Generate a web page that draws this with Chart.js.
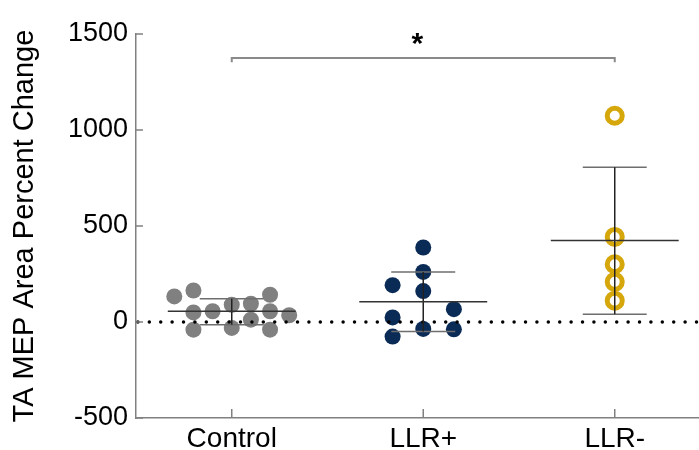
<!DOCTYPE html>
<html>
<head>
<meta charset="utf-8">
<script src="https://cdn.jsdelivr.net/npm/chart.js@4/dist/chart.umd.min.js"></script>
<style>
  html, body { margin: 0; padding: 0; background: #fff; overflow: hidden; }
  #wrap { width: 699px; height: 450px; position: relative; }
  canvas { display: block; }
</style>
</head>
<body>
<div id="wrap"><canvas id="c"></canvas></div>
<script>
// --- data ---
const categories = ['Control', 'LLR+', 'LLR-'];
const yTicks = [-500, 0, 500, 1000, 1500];

// per-subject values, with their horizontal jitter (category units)
const controlValues = [133, 164, 50, -40, 56, 90, -31, 95, 12, 142, 56, -40, 35];
const controlJitter = [-0.3, -0.2, -0.2, -0.2, -0.1, 0, 0, 0.1, 0.1, 0.2, 0.2, 0.2, 0.3];
const llrPlusValues = [388, 261, 192, 161, 67, 24, -36, -38, -76];
const llrPlusJitter = [0, 0, -0.16, 0, 0.16, -0.16, 0, 0.16, -0.16];
const llrMinusValues = [1074, 443, 301, 209, 111];
const llrMinusJitter = [0, 0, 0, 0, 0];

// mean and error bar ends per group
const groupMean = [56, 105, 425];
const errUpper = [121, 261, 806];
const errLower = [-14, -50, 41];

// significance bracket Control vs LLR-
const sigPair = [0, 2];
const sigLevel = 1375;
const sigLabel = '*';

/* ---------------------------
   Helpers
   --------------------------- */
const FONT = '"Liberation Sans", Arial, sans-serif';
const MEAN_HALF = 0.334;
const CAP_HALF = 0.167;

function points(values, jitter, group) {
  return values.map((v, i) => ({ x: group + jitter[i], y: v }));
}

function segment(label, pts, color, width) {
  return {
    type: 'line', label, data: pts, borderColor: color, borderWidth: width,
    pointRadius: 0, fill: false, tension: 0, order: 1
  };
}

function errorSets() {
  const sets = [];
  groupMean.forEach((m, g) => {
    sets.push(segment('mean' + g, [{ x: g - MEAN_HALF, y: m }, { x: g + MEAN_HALF, y: m }], '#333', 1.5));
    sets.push(segment('bar' + g, [{ x: g, y: errLower[g] }, { x: g, y: errUpper[g] }], '#222', 1.5));
    sets.push(segment('capU' + g, [{ x: g - CAP_HALF, y: errUpper[g] }, { x: g + CAP_HALF, y: errUpper[g] }], '#6e6e6e', 1.5));
    sets.push(segment('capL' + g, [{ x: g - CAP_HALF, y: errLower[g] }, { x: g + CAP_HALF, y: errLower[g] }], '#6e6e6e', 1.5));
  });
  return sets;
}

// inward ticks + significance star
const extrasPlugin = {
  id: 'extras',
  afterDraw(chart) {
    const ctx = chart.ctx;
    const xs = chart.scales.x, ys = chart.scales.y;
    const area = chart.chartArea;
    ctx.save();
    ctx.strokeStyle = '#808080';
    ctx.lineWidth = 1.5;
    yTicks.forEach(t => {
      const py = ys.getPixelForValue(t);
      ctx.beginPath();
      ctx.moveTo(area.left, py);
      ctx.lineTo(area.left + 7, py);
      ctx.stroke();
    });
    categories.forEach((c, i) => {
      const px = xs.getPixelForValue(i);
      ctx.beginPath();
      ctx.moveTo(px, area.bottom);
      ctx.lineTo(px, area.bottom - 9);
      ctx.stroke();
    });
    // star above the bracket
    ctx.fillStyle = '#000';
    ctx.font = 'bold 30px ' + FONT;
    ctx.textAlign = 'center';
    ctx.textBaseline = 'middle';
    ctx.fillText(sigLabel, xs.getPixelForValue((sigPair[0] + sigPair[1]) / 2) - 6, ys.getPixelForValue(sigLevel) - 13);
    ctx.restore();
  }
};

const datasets = [
  {
    type: 'scatter', label: categories[0], data: points(controlValues, controlJitter, 0),
    pointRadius: 8, pointHoverRadius: 8, backgroundColor: '#808080', borderWidth: 0, order: 3
  },
  {
    type: 'scatter', label: categories[1], data: points(llrPlusValues, llrPlusJitter, 1),
    pointRadius: 8, pointHoverRadius: 8, backgroundColor: '#0b2b57', borderWidth: 0, order: 3
  },
  {
    type: 'scatter', label: categories[2], data: points(llrMinusValues, llrMinusJitter, 2),
    pointRadius: 7.5, pointHoverRadius: 7.5, backgroundColor: 'rgba(255,255,255,0)',
    borderColor: '#d5a70b', borderWidth: 5, order: 3
  },
  {
    type: 'line', label: 'zero', data: [{ x: -0.49, y: 0 }, { x: 2.44, y: 0 }],
    borderColor: '#000', borderWidth: 3.5, borderDash: [0, 11.4], borderCapStyle: 'round',
    pointRadius: 0, fill: false, order: 2
  },
  segment('sig', [
    { x: sigPair[0], y: sigLevel - 22 }, { x: sigPair[0], y: sigLevel },
    { x: sigPair[1], y: sigLevel }, { x: sigPair[1], y: sigLevel - 22 }
  ], '#8a8a8a', 2),
  ...errorSets()
];

new Chart(document.getElementById('c').getContext('2d'), {
  data: { datasets },
  options: {
    responsive: true,
    maintainAspectRatio: false,
    animation: false,
    layout: { autoPadding: false, padding: { top: 34, right: 0, left: 0, bottom: 0 } },
    plugins: { legend: { display: false }, tooltip: { enabled: false } },
    scales: {
      x: {
        type: 'linear', min: -0.5, max: 2.44,
        afterBuildTicks: s => { s.ticks = categories.map((c, i) => ({ value: i })); },
        ticks: {
          callback: (v, i) => categories[i], autoSkip: false, maxRotation: 0,
          color: '#000', padding: 4, font: { size: 28, family: FONT }
        },
        grid: { display: false, drawTicks: false },
        border: { color: '#808080', width: 1.5 },
        afterFit: s => { s.height = 32; }
      },
      y: {
        min: -500, max: 1500,
        afterBuildTicks: s => { s.ticks = yTicks.map(v => ({ value: v })); },
        ticks: { color: '#000', padding: 8, font: { size: 27, family: FONT }, callback: v => String(v) },
        grid: { display: false, drawTicks: false },
        border: { color: '#808080', width: 1.5 },
        title: {
          display: true, text: 'TA MEP Area Percent Change', color: '#000',
          font: { size: 29, family: FONT }, padding: { top: 8, bottom: 0 }
        },
        afterFit: s => { s.width = 136; }
      }
    }
  },
  plugins: [extrasPlugin]
});
</script>
</body>
</html>
